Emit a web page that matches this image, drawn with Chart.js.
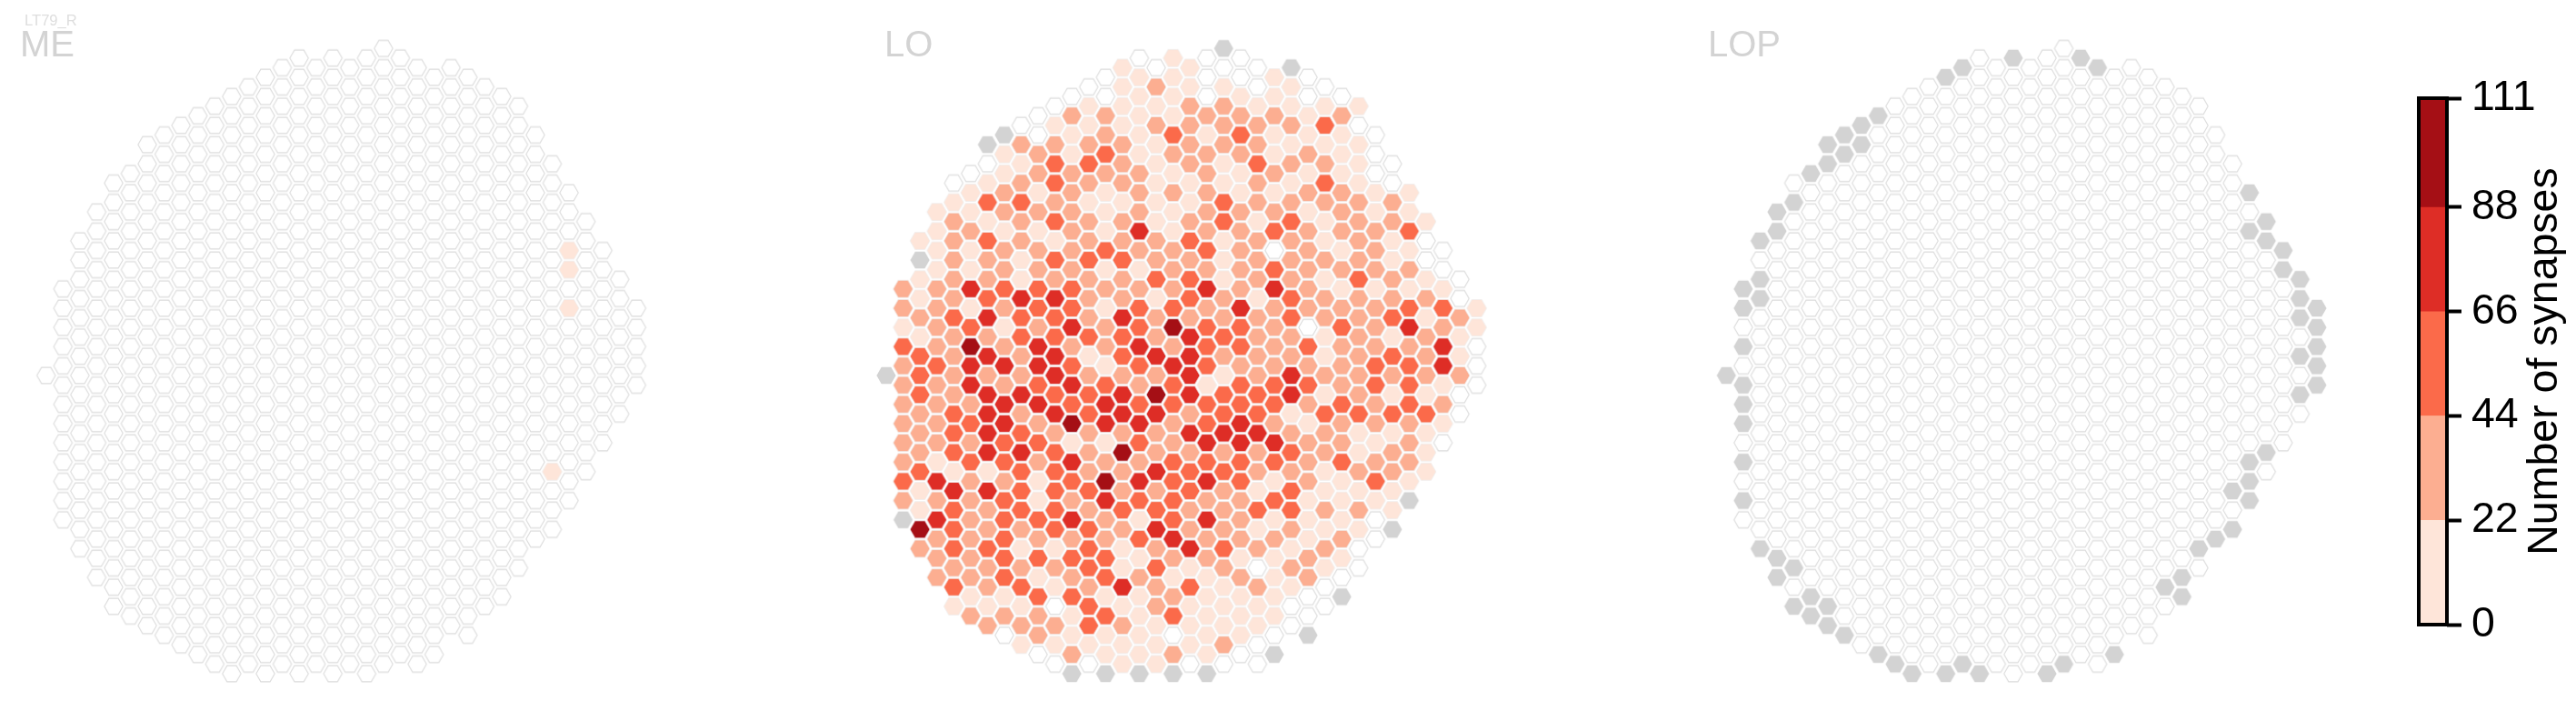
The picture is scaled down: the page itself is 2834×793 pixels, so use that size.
<!DOCTYPE html>
<html>
<head>
<meta charset="utf-8">
<script src="https://cdn.jsdelivr.net/npm/chart.js@4/dist/chart.umd.min.js"></script>
<style>
html,body{margin:0;padding:0;background:#fff;width:2834px;height:793px;overflow:hidden}
canvas{position:absolute;top:0}
</style>
</head>
<body>
<canvas id="me" width="760" height="793" style="left:0"></canvas>
<canvas id="lo" width="760" height="793" style="left:924px"></canvas>
<canvas id="lop" width="760" height="793" style="left:1848px"></canvas>
<canvas id="bar" width="204" height="793" style="left:2630px"></canvas>
<script>
// ---- data -------------------------------------------------------------
// Cell classes: x = no column, 0 = zero synapses, 1..5 = colour-bar bin.
const firstRow = -34;
const rowStartCol = [20,15,14,13,12,11,10,9,8,7,6,7,6,5,4,5,4,3,4,3,2,3,2,3,2,1,2,1,2,1,2,1,2,1,0,1,2,1,2,1,2,1,2,1,2,1,2,1,2,1,2,3,2,3,4,3,4,5,4,5,6,7,8,9,10,11];
const loRows = ["x","0100","10100x","0110010","01211010","001101100","0111221111","0221122212","01112222230","x01213131110","x22221222111","121312221210","0133212132210","0122221212110","01232211121310","12121222112211","13321111322222","112221212221211","212322123131221","121121412232223","1232122231221210","1122232232021210","x221333221222210","1122211222322220","12212223312213210","22433322242421111","12344221321322220","221233133242222331","23433242222322312","123124235332032421","12233332432212121","325242242332322240","32424134422212321","234443134322223340","x32224222412422222","224234323133323310","32443345433412110","22244343333323232","23424344233133330","22342544234212221","2343222244422111","22233113244422120","2344325222232121","2133242233332322","3113322433221221","3422135434312131","144333223213111","222312433223111x","132332332233221","x42334213421110","53223324221211x","22322234222120","23311312432120","2233331221121","2222313120210","2231232112120","323124231210","11331121110x","111031211100","22213131110","2223211110","021110110x","11111120","0211210x","0011000","xxxxx"];
const meLightCells = [[31,-13],[31,-11],[31,-7],[30,10]];
const lopMissingCells = [[17,-33],[21,-33],[14,-32],[22,-32],[13,-31],[9,-27],[8,-26],[7,-25],[8,-24],[6,-24],[7,-23],[6,-22],[5,-21],[4,-18],[3,-17],[3,-15],[2,-14],[2,-10],[1,-9],[2,-8],[1,-7],[1,-3],[0,0],[1,1],[1,3],[1,5],[1,9],[1,13],[2,18],[3,19],[4,20],[3,21],[5,23],[4,24],[6,24],[5,25],[6,26],[7,27],[9,29],[10,30],[11,31],[13,31],[14,30],[15,31],[19,31],[20,30],[23,29],[27,21],[26,22],[27,23],[28,18],[29,17],[30,12],[30,16],[31,-19],[32,-16],[31,-15],[32,-14],[33,-13],[33,-11],[34,-10],[34,-8],[35,-7],[34,-6],[35,-5],[35,-3],[34,-2],[35,-1],[35,1],[34,2],[32,8],[31,9],[31,11],[31,13]];
const panelNames = ["ME","LO","LOP"];
const cornerLabel = "LT79_R";
const binClasses = ["x","0","1","2","3","4","5"];
const binColors = ["#d3d3d3","#ffffff","#fee5d9","#fcae91","#fb6a4a","#de2d26","#a50f15"];
const binEdges = [0,22,44,66,88,111];
const barTicks = [0,22,44,66,88,111];
const barTitle = "Number of synapses";
const textGrey = "#d3d3d3";

// ---- geometry ---------------------------------------------------------
const colStep = 18.56, rowStep = 10.58, rowZeroY = 413;
const panelFirstColX = [50.7 - 0, 975 - 924, 1899.3 - 1848];
const font = '"Liberation Sans", Arial, sans-serif';
function hexImage(fill, stroke, R, lw) {
  const c = document.createElement('canvas');
  c.width = c.height = 30;
  const g = c.getContext('2d');
  g.beginPath();
  for (let i = 0; i < 6; i++) {
    const a = Math.PI / 3 * i;
    const px = 15 + R * Math.cos(a), py = 15 + R * Math.sin(a);
    i ? g.lineTo(px, py) : g.moveTo(px, py);
  }
  g.closePath();
  g.fillStyle = fill; g.fill();
  if (stroke) { g.strokeStyle = stroke; g.lineWidth = lw; g.stroke(); }
  return c;
}
const binImages = binColors.map((col, i) =>
  i === 0 ? hexImage(col, null, 10.6, 0)
  : i === 1 ? hexImage(col, "#dcdcdc", 10.2, 1.1)
  : hexImage(col, "#ededed", 10.9, 0.7));

function allCells() {
  const out = [];
  loRows.forEach((s, i) => {
    [...s].forEach((ch, k) => out.push({c: rowStartCol[i] + 2 * k, r: firstRow + i, lo: ch}));
  });
  return out;
}
const key = (c, r) => c + ',' + r;
const meSet = new Set(meLightCells.map(p => key(p[0], p[1])));
const lopSet = new Set(lopMissingCells.map(p => key(p[0], p[1])));
const classify = [
  cell => meSet.has(key(cell.c, cell.r)) ? "1" : "0",
  cell => cell.lo,
  cell => lopSet.has(key(cell.c, cell.r)) ? "x" : "0"
];

function panelLabelsPlugin(panel) {
  return {
    id: 'panelLabels',
    afterDraw(chart) {
      const g = chart.ctx;
      g.save();
      g.fillStyle = textGrey;
      g.textBaseline = 'alphabetic';
      g.textAlign = 'left';
      g.font = '40px ' + font;
      g.fillText(panelNames[panel], [22, 49, 31][panel], 62);
      if (panel === 0) {
        g.fillStyle = "#dedede";
        g.font = '16.6px ' + font;
        g.fillText(cornerLabel, 27, 28);
      }
      g.restore();
    }
  };
}

["me", "lo", "lop"].forEach((id, panel) => {
  const cells = allCells();
  const datasets = binClasses.map((cls, i) => ({
    label: cls,
    data: cells.filter(cell => classify[panel](cell) === cls).map(cell => ({x: cell.c, y: cell.r})),
    pointStyle: binImages[i],
    pointRadius: 11,
    showLine: false,
    clip: false
  }));
  const cv = document.getElementById(id);
  new Chart(cv, {
    type: 'scatter',
    data: {datasets},
    options: {
      responsive: false, animation: false, devicePixelRatio: 1,
      events: [],
      layout: {padding: 0, autoPadding: false},
      plugins: {legend: {display: false}, tooltip: {enabled: false}},
      scales: {
        x: {type: 'linear', display: false, min: -panelFirstColX[panel] / colStep, max: (cv.width - panelFirstColX[panel]) / colStep},
        y: {type: 'linear', display: false, reverse: true, min: -rowZeroY / rowStep, max: (cv.height - rowZeroY) / rowStep}
      }
    },
    plugins: [panelLabelsPlugin(panel)]
  });
});

// ---- colour bar -------------------------------------------------------
const barLeft = 2661, barRight = 2692, barTop = 108, barBottom = 687, barCanvasLeft = 2630;
const barSegments = binEdges.slice(1).map((e, i) => e - binEdges[i]);
new Chart(document.getElementById('bar'), {
  type: 'bar',
  data: {
    labels: [''],
    datasets: barSegments.map((v, i) => ({
      data: [v], backgroundColor: binColors[i + 2], borderWidth: 0,
      barPercentage: 1, categoryPercentage: 1, stack: 's'
    }))
  },
  options: {
    responsive: false, animation: false, devicePixelRatio: 1, events: [],
    layout: {padding: {left: barLeft - barCanvasLeft, top: barTop, bottom: 793 - barBottom, right: 0}},
    plugins: {legend: {display: false}, tooltip: {enabled: false}},
    scales: {
      x: {stacked: true, display: false},
      y: {
        stacked: true, position: 'right', min: 0, max: 111,
        afterBuildTicks(scale) { scale.ticks = barTicks.map(v => ({value: v})); },
        afterFit(scale) { scale.width = 204 - (barRight - barCanvasLeft); },
        grid: {drawOnChartArea: false, drawTicks: true, tickLength: 16, tickWidth: 4, tickColor: '#000'},
        border: {display: false},
        ticks: {autoSkip: false, color: '#000', padding: 11, font: {family: font, size: 46.5}, maxRotation: 0}
      }
    }
  },
  plugins: [{
    id: 'barFrame',
    afterDraw(chart) {
      const g = chart.ctx, a = chart.chartArea;
      g.save();
      g.strokeStyle = '#000'; g.lineWidth = 4;
      g.strokeRect(a.left, a.top, a.right - a.left, a.bottom - a.top);
      g.translate(2800 - barCanvasLeft, (a.top + a.bottom) / 2 + 0);
      g.rotate(-Math.PI / 2);
      g.fillStyle = '#000'; g.font = '46.5px ' + font;
      g.textAlign = 'center'; g.textBaseline = 'middle';
      g.fillText(barTitle, 0, 0);
      g.restore();
    }
  }]
});
</script>
</body>
</html>
